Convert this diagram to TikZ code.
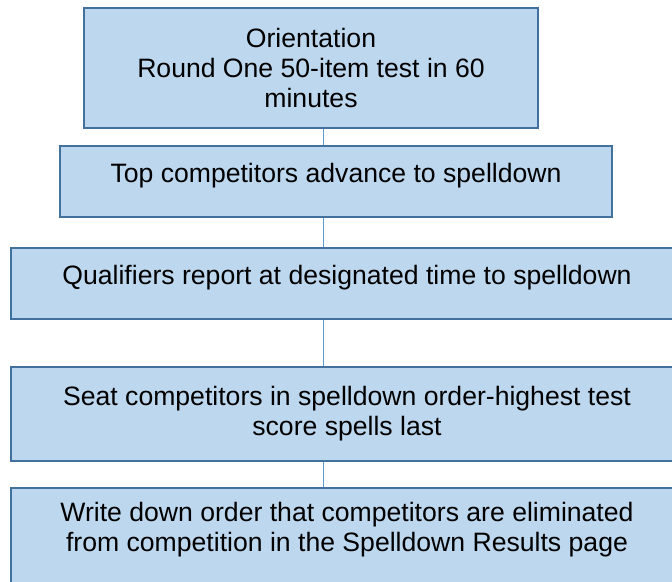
\documentclass[tikz,border=0pt]{standalone}
\usepackage{fontspec}
\setmainfont{Liberation Sans}
\usetikzlibrary{calc}

\definecolor{boxfill}{HTML}{BDD7EE}
\definecolor{boxline}{HTML}{41719C}
\definecolor{linkline}{HTML}{5B9BD5}

\tikzset{
  stage/.style={draw=boxline, fill=boxfill, line width=2pt, inner sep=0pt},
  stagetext/.style={align=center, font=\fontsize{26.6}{30}\selectfont, inner sep=0pt},
  link/.style={draw=linkline, line width=1.5pt}
}

\begin{document}
\begin{tikzpicture}[x=1pt, y=-1pt]
\clip (0,0) rectangle (672,581);
\fill[white] (0,0) rectangle (672,581);
% boxes
\node[stage, minimum width=454pt, minimum height=120pt] (b1) at (311,68) {};
\node[stage, minimum width=552pt, minimum height=71pt] (b2) at (336,181.5) {};
\node[stage, minimum width=672pt, minimum height=71pt] (b3) at (347,283.5) {};
\node[stage, minimum width=672pt, minimum height=94pt] (b4) at (347,414) {};
\node[stage, minimum width=672pt, minimum height=96pt] (b5) at (347,536) {};
% texts
\node[stagetext] (t1) at (311,68.3) {Orientation\\Round One 50-item test in 60\\minutes};
\node[stagetext] (t2) at (336,176) {Top competitors advance to spelldown};
\node[stagetext] (t3) at (347,278) {Qualifiers report at designated time to spelldown};
\node[stagetext] (t4) at (347,413.3) {Seat competitors in spelldown order-highest test\\score spells last};
\node[stagetext] (t5) at (347,530) {Write down order that competitors are eliminated\\from competition in the Spelldown Results page};
% connectors
\coordinate (spine) at (323.5,0);
\foreach \a/\b in {b1/b2, b2/b3, b3/b4, b4/b5} {
 \draw[link] (\a.south -| spine) -- (\b.north -| spine);
}
\end{tikzpicture}
\end{document}
